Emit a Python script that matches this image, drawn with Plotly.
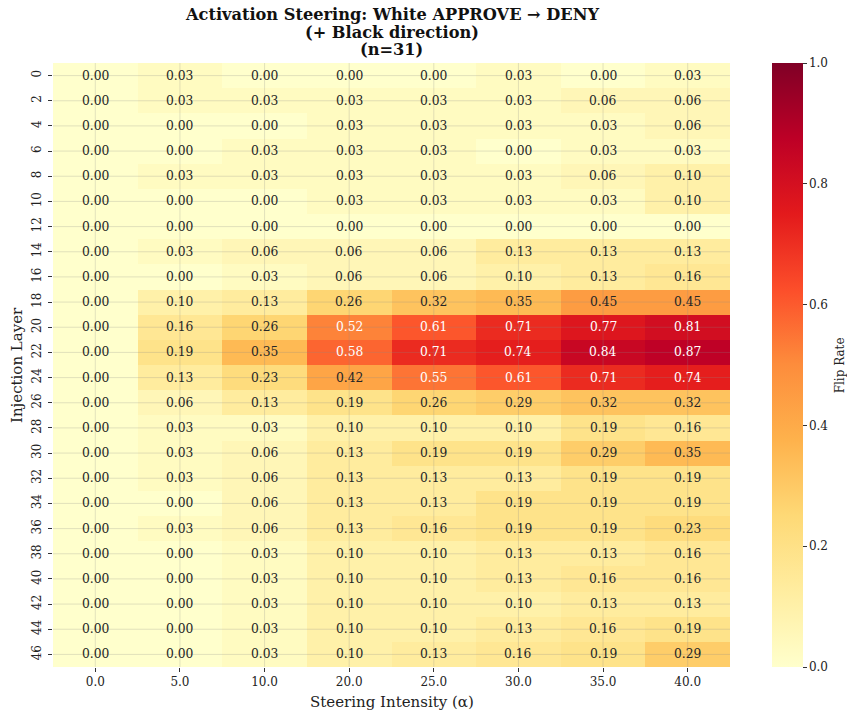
import plotly.graph_objects as go

alphas = ["0.0", "5.0", "10.0", "20.0", "25.0", "30.0", "35.0", "40.0"]
layers = ["0", "2", "4", "6", "8", "10", "12", "14", "16", "18", "20", "22",
          "24", "26", "28", "30", "32", "34", "36", "38", "40", "42", "44", "46"]

flip_rate = [
    [0.00, 0.03, 0.00, 0.00, 0.00, 0.03, 0.00, 0.03],
    [0.00, 0.03, 0.03, 0.03, 0.03, 0.03, 0.06, 0.06],
    [0.00, 0.00, 0.00, 0.03, 0.03, 0.03, 0.03, 0.06],
    [0.00, 0.00, 0.03, 0.03, 0.03, 0.00, 0.03, 0.03],
    [0.00, 0.03, 0.03, 0.03, 0.03, 0.03, 0.06, 0.10],
    [0.00, 0.00, 0.00, 0.03, 0.03, 0.03, 0.03, 0.10],
    [0.00, 0.00, 0.00, 0.00, 0.00, 0.00, 0.00, 0.00],
    [0.00, 0.03, 0.06, 0.06, 0.06, 0.13, 0.13, 0.13],
    [0.00, 0.00, 0.03, 0.06, 0.06, 0.10, 0.13, 0.16],
    [0.00, 0.10, 0.13, 0.26, 0.32, 0.35, 0.45, 0.45],
    [0.00, 0.16, 0.26, 0.52, 0.61, 0.71, 0.77, 0.81],
    [0.00, 0.19, 0.35, 0.58, 0.71, 0.74, 0.84, 0.87],
    [0.00, 0.13, 0.23, 0.42, 0.55, 0.61, 0.71, 0.74],
    [0.00, 0.06, 0.13, 0.19, 0.26, 0.29, 0.32, 0.32],
    [0.00, 0.03, 0.03, 0.10, 0.10, 0.10, 0.19, 0.16],
    [0.00, 0.03, 0.06, 0.13, 0.19, 0.19, 0.29, 0.35],
    [0.00, 0.03, 0.06, 0.13, 0.13, 0.13, 0.19, 0.19],
    [0.00, 0.00, 0.06, 0.13, 0.13, 0.19, 0.19, 0.19],
    [0.00, 0.03, 0.06, 0.13, 0.16, 0.19, 0.19, 0.23],
    [0.00, 0.00, 0.03, 0.10, 0.10, 0.13, 0.13, 0.16],
    [0.00, 0.00, 0.03, 0.10, 0.10, 0.13, 0.16, 0.16],
    [0.00, 0.00, 0.03, 0.10, 0.10, 0.10, 0.13, 0.13],
    [0.00, 0.00, 0.03, 0.10, 0.10, 0.13, 0.16, 0.19],
    [0.00, 0.00, 0.03, 0.10, 0.13, 0.16, 0.19, 0.29],
]

title_lines = ["Activation Steering: White APPROVE → DENY", "(+ Black direction)", "(n=31)"]

ylorrd = ["#ffffcc", "#ffeda0", "#fed976", "#feb24c", "#fd8d3c",
          "#fc4e2a", "#e31a1c", "#bd0026", "#800026"]
colorscale = [[i / (len(ylorrd) - 1), c] for i, c in enumerate(ylorrd)]

FONT = "DejaVu Serif"

fig = go.Figure(go.Heatmap(
    z=flip_rate, x=alphas, y=layers,
    colorscale=colorscale, zmin=0, zmax=1,
    xgap=0, ygap=0,
    hoverongaps=False,
    colorbar=dict(
        x=1.062, xanchor="left", xref="paper", xpad=0, ypad=0,
        y=0.5, yanchor="middle", len=1.0, lenmode="fraction",
        thickness=31, outlinewidth=0,
        tickvals=[0, 0.2, 0.4, 0.6, 0.8, 1.0],
        ticktext=["0.0", "0.2", "0.4", "0.6", "0.8", "1.0"],
        ticks="outside", ticklen=4, tickcolor="#333",
        tickfont=dict(family=FONT, size=12, color="#222"),
    ),
))

# category axes: annotation / shape positions given as category indices
annotations = []
for i, lay in enumerate(layers):
    for j, a in enumerate(alphas):
        v = flip_rate[i][j]
        annotations.append(dict(
            x=j, y=i, xref="x", yref="y", text=f"{v:.2f}", showarrow=False,
            font=dict(family=FONT, size=12.3, color="white" if v > 0.5 else "#262626"),
        ))

# title as three tightly spaced lines
for k, line in enumerate(title_lines):
    annotations.append(dict(
        x=0.5, xref="paper", xanchor="center",
        y=1.0795 - k * 0.0282, yref="paper", yanchor="middle",
        text=f"<b>{line}</b>", showarrow=False, borderpad=0,
        font=dict(family=FONT, size=16.2, color="#111"),
    ))

# axis titles and colorbar label
annotations.append(dict(
    x=0.5, xref="paper", xanchor="center", y=-0.058, yref="paper", yanchor="middle",
    text="Steering Intensity (α)", showarrow=False, borderpad=0,
    font=dict(family=FONT, size=15, color="#222"),
))
annotations.append(dict(
    x=-0.0532, xref="paper", xanchor="center", y=0.5, yref="paper", yanchor="middle",
    text="Injection Layer", textangle=-90, showarrow=False, borderpad=0,
    font=dict(family=FONT, size=15, color="#222"),
))
annotations.append(dict(
    x=1.163, xref="paper", xanchor="center", y=0.5, yref="paper", yanchor="middle",
    text="Flip Rate", textangle=-90, showarrow=False, borderpad=0,
    font=dict(family=FONT, size=12, color="#222"),
))

shapes = []
for j, a in enumerate(alphas):
    shapes.append(dict(type="line", xref="x", yref="paper", x0=j, x1=j, y0=0, y1=1,
                       line=dict(color="rgba(140,140,140,0.25)", width=1), layer="above"))
for i, lay in enumerate(layers):
    shapes.append(dict(type="line", xref="paper", yref="y", x0=0, x1=1, y0=i, y1=i,
                       line=dict(color="rgba(140,140,140,0.25)", width=1), layer="above"))

fig.update_layout(
    width=847, height=713,
    margin=dict(l=53, r=117, t=63, b=46, autoexpand=False),
    paper_bgcolor="white", plot_bgcolor="white",
    font=dict(family=FONT, color="#222"),
    xaxis=dict(
        type="category", automargin=False,
        tickfont=dict(family=FONT, size=12), ticks="outside", ticklen=4, tickcolor="#333",
        tickangle=0,
        showgrid=False, zeroline=False, showline=False,
    ),
    yaxis=dict(
        type="category", automargin=False,
        tickfont=dict(family=FONT, size=12), ticks="outside", ticklen=4, tickcolor="#333",
        ticklabelstandoff=2,
        tickangle=-90, autorange="reversed",
        showgrid=False, zeroline=False, showline=False,
    ),
    annotations=annotations,
    shapes=shapes,
)

fig.write_html(
    "out.html",
    config={"displayModeBar": False},
    post_script="document.body.style.margin='0';document.body.style.overflow='hidden';",
)
